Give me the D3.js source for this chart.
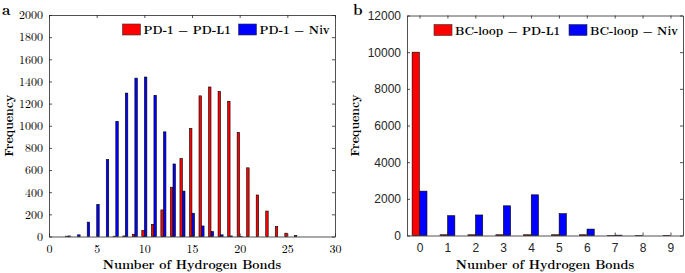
<!DOCTYPE html>
<html>
<head>
<meta charset="utf-8">
<script src="https://cdn.jsdelivr.net/npm/d3@7"></script>
<style>
  body { margin: 0; background: #fff; }
  svg { display: block; }
</style>
</head>
<body>
<script>
// panel a: PD-1 hydrogen bonds
const bondsA = d3.range(0, 31);
const pdl1A = [0,0,3,0,0,0,0,3,5,20,55,110,240,445,705,975,1270,1350,1310,1220,940,620,375,230,90,30,10,0,0,0,0];
const nivA  = [0,0,5,15,130,290,695,1040,1295,1430,1440,1275,945,655,410,210,95,45,15,5,2,0,0,0,0,0,0,0,0,0,0];
const ticksAx = [0,5,10,15,20,25,30];
const ticksAy = d3.range(0, 2001, 200);

// panel b: BC-loop hydrogen bonds
const bondsB = d3.range(0, 10);
const pdl1B = [10000,40,40,40,40,40,40,10,10,10];
const nivB  = [2420,1080,1120,1620,2220,1190,350,20,0,0];
const ticksBy = d3.range(0, 12001, 2000);

const W = 685, H = 273;
const axisColor = '#262626';
const serif = '"Latin Modern Roman", "DejaVu Serif", serif';
const sans = '"Liberation Sans", Arial, sans-serif';

const svg = d3.select('body').append('svg')
    .attr('width', W)
    .attr('height', H);

function draw_panel(opt) {
    const g = svg.append('g');
    const x = d3.scaleLinear().domain(opt.xDomain).range([opt.left, opt.right]);
    const y = d3.scaleLinear().domain(opt.yDomain).range([opt.bottom, opt.top]);
    const half = x(opt.barW) - x(0);
    const sub = d3.scaleBand().domain(['a', 'b']).range([-half, half]).padding(0.05);

    // bars
    const rows = opt.cats.map((c, i) => ({c, a: opt.s1[i], b: opt.s2[i]}));
    const grp = g.selectAll('g.grp')
        .data(rows)
        .join('g')
        .attr('transform', d => `translate(${x(d.c)},0)`);
    grp.selectAll('rect')
        .data(d => [{k: 'a', v: d.a}, {k: 'b', v: d.b}])
        .join('rect')
        .attr('x', d => sub(d.k))
        .attr('y', d => y(d.v))
        .attr('width', sub.bandwidth())
        .attr('height', d => y(0) - y(d.v))
        .attr('fill', d => d.k === 'a' ? '#ff0000' : '#0000ff')
        .attr('stroke', '#000')
        .attr('stroke-width', 0.6);

    // axes
    const tl = 3;
    const fmt = d3.format('d');
    g.append('g')
        .attr('transform', `translate(0,${opt.bottom})`)
        .call(d3.axisBottom(x).tickValues(opt.xTicks).tickFormat(fmt).tickSizeInner(-tl).tickSizeOuter(0).tickPadding(8));
    g.append('g')
        .attr('transform', `translate(${opt.left},0)`)
        .call(d3.axisLeft(y).tickValues(opt.yTicks).tickFormat(fmt).tickSizeInner(-tl).tickSizeOuter(0).tickPadding(6));
    g.append('g')
        .attr('transform', `translate(0,${opt.top})`)
        .call(d3.axisTop(x).tickValues(opt.xTicks).tickSizeInner(-tl).tickSizeOuter(0).tickFormat(''));
    g.append('g')
        .attr('transform', `translate(${opt.right},0)`)
        .call(d3.axisRight(y).tickValues(opt.yTicks).tickSizeInner(-tl).tickSizeOuter(0).tickFormat(''));
    g.selectAll('.domain, .tick line').attr('stroke', axisColor).attr('stroke-width', 0.8);
    g.selectAll('.tick text')
        .attr('fill', opt.tickColor)
        .style('font-family', opt.tickFont)
        .style('font-size', opt.tickSize + 'px');

    // axis titles
    g.append('text')
        .attr('x', (opt.left + opt.right) / 2)
        .attr('y', opt.xLabelY)
        .attr('text-anchor', 'middle')
        .style('font-family', serif)
        .style('font-weight', 'bold')
        .style('font-size', '12.5px')
        .text('Number of Hydrogen Bonds');
    g.append('text')
        .attr('transform', `translate(${opt.yLabelX},${(opt.top + opt.bottom) / 2}) rotate(-90)`)
        .attr('text-anchor', 'middle')
        .attr('dy', '0.35em')
        .style('font-family', serif)
        .style('font-weight', 'bold')
        .style('font-size', '12px')
        .text('Frequency');

    // panel letter
    g.append('text')
        .attr('x', opt.letterX)
        .attr('y', 15)
        .style('font-family', serif)
        .style('font-weight', 'bold')
        .style('font-size', '15px')
        .text(opt.letter);

    // legend
    const lg = g.append('g');
    opt.legend.forEach((it, i) => {
        lg.append('rect')
            .attr('x', it.x).attr('y', opt.top + 9)
            .attr('width', 18).attr('height', 11)
            .attr('fill', i === 0 ? '#ff0000' : '#0000ff')
            .attr('stroke', '#333').attr('stroke-width', 0.6);
        lg.append('text')
            .attr('x', it.x + 21).attr('y', opt.top + 15)
            .attr('dy', '0.35em')
            .style('font-family', serif)
            .style('font-weight', 'bold')
            .style('font-size', '11.5px')
            .text(it.label);
    });
}

draw_panel({
    cats: bondsA, s1: pdl1A, s2: nivA,
    xDomain: [0, 30], yDomain: [0, 2000],
    left: 49, right: 335, top: 15, bottom: 236.5,
    xTicks: ticksAx, yTicks: ticksAy,
    barW: 0.28,
    tickFont: serif, tickSize: 12, tickColor: '#000',
    xLabelY: 269, yLabelX: 8.5,
    letter: 'a', letterX: 2,
    legend: [{x: 122.5, label: 'PD-1 − PD-L1'}, {x: 238.5, label: 'PD-1 − Niv'}]
});

draw_panel({
    cats: bondsB, s1: pdl1B, s2: nivB,
    xDomain: [-0.45, 9.45], yDomain: [0, 12000],
    left: 407, right: 683, top: 15.5, bottom: 235.5,
    xTicks: bondsB, yTicks: ticksBy,
    barW: 0.28,
    tickFont: sans, tickSize: 12, tickColor: '#262626',
    xLabelY: 268.5, yLabelX: 355,
    letter: 'b', letterX: 353,
    legend: [{x: 434, label: 'BC-loop − PD-L1'}, {x: 569, label: 'BC-loop − Niv'}]
});
</script>
</body>
</html>
